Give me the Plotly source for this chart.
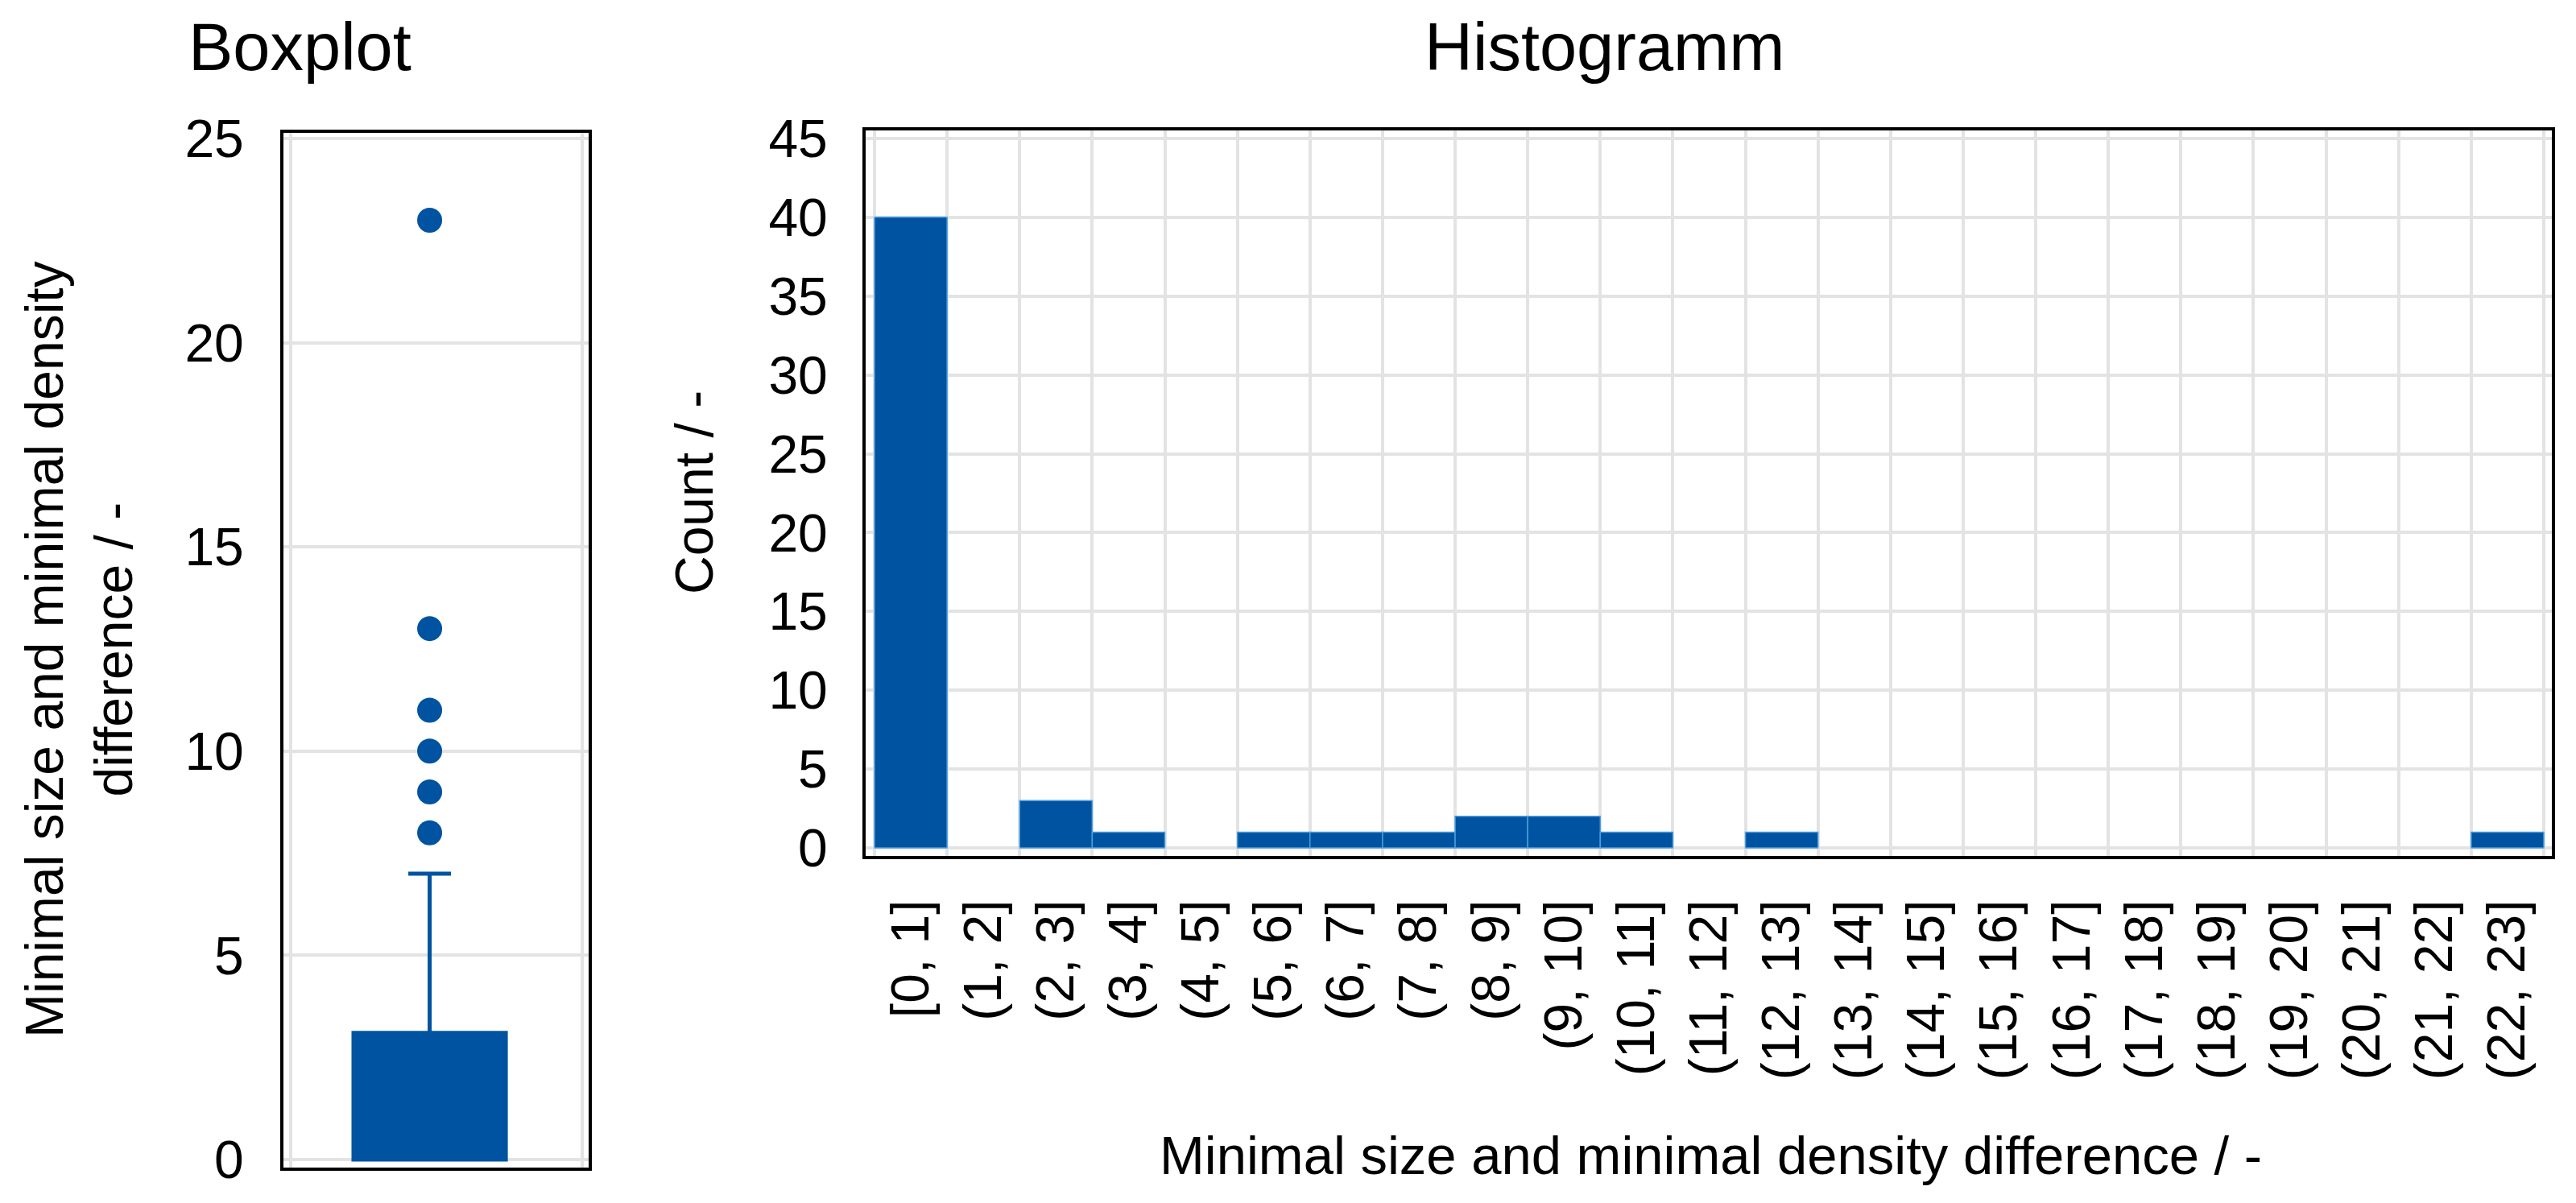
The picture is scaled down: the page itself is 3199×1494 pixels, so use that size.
import plotly.graph_objects as go

# ---------------- data ----------------
bin_lower = list(range(23))
bin_labels = ["[0, 1]"] + [f"({i}, {i+1}]" for i in range(1, 23)]
counts = [40, 0, 3, 1, 0, 1, 1, 1, 2, 2, 1, 0, 1, 0, 0, 0, 0, 0, 0, 0, 0, 0, 1]

box_q1 = 0
box_median = 0
box_q3 = 3.1
box_lowerfence = 0
box_upperfence = 7
outliers = [8, 9, 10, 11, 13, 23]

# ---------------- style ----------------
PAGE_W, PAGE_H = 3199, 1494
OFF = 8  # default body margin of the html page
W, H = PAGE_W - OFF, PAGE_H - OFF
BLUE = "#0053a1"
EDGE = "#4a9ede"
GRID = "#e3e3e3"
FONT = "Liberation Sans, Arial, sans-serif"
FS = 66

def px_x(p):
    return (p - OFF) / W

def px_y(p):
    return 1 - (p - OFF) / H

fig = go.Figure()

# Boxplot
fig.add_trace(go.Box(
    x=[0], q1=[box_q1], median=[box_median], q3=[box_q3],
    lowerfence=[box_lowerfence], upperfence=[box_upperfence],
    width=0.5, whiskerwidth=0.28, boxpoints=False,
    fillcolor=BLUE, line=dict(color=BLUE, width=5),
    xaxis="x", yaxis="y", showlegend=False, hoverinfo="skip",
))
fig.add_trace(go.Scatter(
    x=[0] * len(outliers), y=outliers, mode="markers",
    marker=dict(size=31, color=BLUE), xaxis="x", yaxis="y",
    showlegend=False,
))

# Histogram
centers = [b + 0.5 for b in bin_lower]
edge_widths = [1.5 if c > 0 else 0 for c in counts]
fig.add_trace(go.Bar(
    x=centers, y=counts, width=1,
    marker=dict(color=BLUE, line=dict(color=EDGE, width=edge_widths)),
    xaxis="x2", yaxis="y2", showlegend=False,
))

axis_common = dict(
    showline=True, linecolor="black", linewidth=4, mirror=True,
    gridcolor=GRID, gridwidth=4, zeroline=False, automargin=False,
    tickfont=dict(family=FONT, size=FS, color="black"),
)

fig.update_layout(
    width=W, height=H,
    margin=dict(l=0, r=0, t=0, b=0, autoexpand=False),
    paper_bgcolor="white", plot_bgcolor="white",
    xaxis=dict(
        domain=[px_x(352), px_x(731)], anchor="y",
        range=[-0.48, 0.522], tickmode="array", tickvals=[-0.456, 0.501],
        showticklabels=False, showgrid=True, ticks="",
        **axis_common,
    ),
    yaxis=dict(
        domain=[px_y(1450), px_y(165)], anchor="x",
        range=[-0.197, 25.138], tickmode="array", tickvals=[0, 5, 10, 15, 20, 25],
        showgrid=True, ticks="", ticklabelstandoff=32,
        **axis_common,
    ),
    xaxis2=dict(
        domain=[px_x(1075), px_x(3169)], anchor="y2",
        range=[-0.122, 23.111], tickmode="array", tickvals=centers,
        ticktext=bin_labels, tickangle=-90, showgrid=False, ticks="",
        ticklabelstandoff=24,
        minor=dict(tickmode="linear", tick0=0, dtick=1, showgrid=True,
                   gridcolor=GRID, gridwidth=4, ticks=""),
        **axis_common,
    ),
    yaxis2=dict(
        domain=[px_y(1063), px_y(162)], anchor="x2",
        range=[-0.511, 45.51], tickmode="array", tickvals=list(range(0, 50, 5)),
        showgrid=True, ticks="", ticklabelstandoff=30,
        **axis_common,
    ),
    annotations=[
        dict(text="Boxplot", x=px_x(372), y=px_y(58), xref="paper", yref="paper",
             xanchor="center", yanchor="middle", showarrow=False,
             font=dict(family=FONT, size=83, color="black")),
        dict(text="Histogramm", x=px_x(1993), y=px_y(58), xref="paper", yref="paper",
             xanchor="center", yanchor="middle", showarrow=False,
             font=dict(family=FONT, size=83, color="black")),
        dict(text="Minimal size and minimal density<br>difference / -",
             x=px_x(98), y=px_y(807), xref="paper", yref="paper",
             xanchor="center", yanchor="middle", showarrow=False, textangle=-90,
             font=dict(family=FONT, size=FS, color="black")),
        dict(text="Count / -", x=px_x(862), y=px_y(612), xref="paper", yref="paper",
             xanchor="center", yanchor="middle", showarrow=False, textangle=-90,
             font=dict(family=FONT, size=FS, color="black")),
        dict(text="Minimal size and minimal density difference / -",
             x=px_x(2124), y=px_y(1434), xref="paper", yref="paper",
             xanchor="center", yanchor="middle", showarrow=False,
             font=dict(family=FONT, size=67, color="black")),
    ],
)

fig.write_html("out.html")
